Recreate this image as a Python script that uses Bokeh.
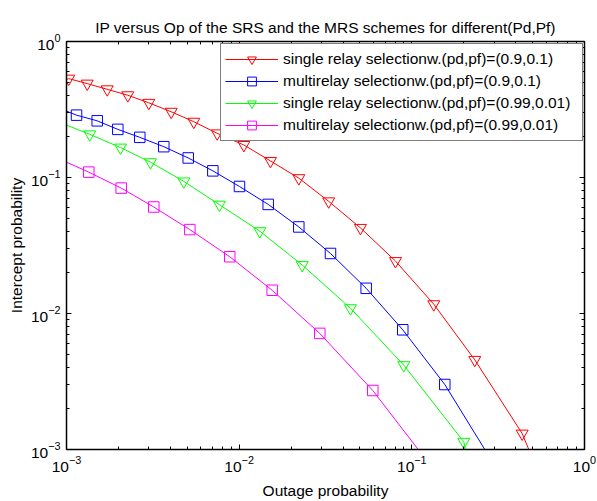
from bokeh.plotting import figure
from bokeh.models import LogAxis, LogTicker, CustomJSTickFormatter, Range1d
from bokeh.embed import file_html
from bokeh.resources import INLINE

# ---------------- data ----------------
x_limits = [1e-3, 1e0]
y_limits = [1e-3, 1e0]

labels = [
    "single relay selectionw.(pd,pf)=(0.9,0.1)",
    "multirelay selectionw.(pd,pf)=(0.9,0.1)",
    "single relay selectionw.(pd,pf)=(0.99,0.01)",
    "multirelay selectionw.(pd,pf)=(0.99,0.01)",
]

# SRS, (pd,pf)=(0.9,0.1)
srs1_x = [1.03e-3, 1.318e-3, 1.721e-3, 2.265e-3, 2.997e-3, 4.04e-3, 5.46e-3, 7.46e-3,
          1.064e-2, 1.518e-2, 2.215e-2, 3.30e-2, 5.04e-2, 8.04e-2, 0.134, 0.2316, 0.4356]
srs1_y = [0.5334, 0.4903, 0.4453, 0.4026, 0.3541, 0.3044, 0.2572, 0.2112,
          0.1734, 0.1324, 0.0989, 0.0668, 0.0426, 0.0243, 0.0117, 0.00456, 0.00131]
srs1_start_y = 0.5245   # curve value at x = 1e-3
srs1_end_x = 0.4757     # curve reaches y = 1e-3

# MRS, (pd,pf)=(0.9,0.1)
mrs1_x = [1.143e-3, 1.506e-3, 1.982e-3, 2.657e-3, 3.66e-3, 5.07e-3, 7.04e-3,
          1.004e-2, 1.473e-2, 2.215e-2, 3.38e-2, 5.44e-2, 8.86e-2, 0.1552]
mrs1_y = [0.2874, 0.2611, 0.2259, 0.1974, 0.1685, 0.1392, 0.1119,
          0.0859, 0.0634, 0.0433, 0.02763, 0.01532, 0.00759, 0.003005]
mrs1_start_y = 0.3075
mrs1_end_x = 0.2646

# SRS, (pd,pf)=(0.99,0.01)
srs2_x = [1.364e-3, 2.055e-3, 3.066e-3, 4.78e-3, 7.69e-3, 1.317e-2, 2.317e-2,
          4.41e-2, 8.98e-2, 0.200]
srs2_y = [0.2077, 0.1660, 0.1296, 0.0936, 0.0631, 0.0403, 0.02273,
          0.01094, 0.00417, 0.001139]
srs2_start_y = 0.2428
srs2_end_x = 0.2045

# MRS, (pd,pf)=(0.99,0.01)
mrs2_x = [1.346e-3, 2.074e-3, 3.202e-3, 5.18e-3, 8.82e-3, 1.553e-2, 2.93e-2, 5.94e-2]
mrs2_y = [0.1095, 0.0836, 0.0607, 0.0414, 0.02615, 0.01482, 0.00714, 0.002716]
mrs2_start_y = 0.1296
mrs2_end_x = 0.1089

colors = ["#FF0000", "#0000FF", "#00FF00", "#FF00FF"]
markers = ["inverted_triangle", "square", "inverted_triangle", "square"]

series = [
    (srs1_x, srs1_y, srs1_start_y, srs1_end_x),
    (mrs1_x, mrs1_y, mrs1_start_y, mrs1_end_x),
    (srs2_x, srs2_y, srs2_start_y, srs2_end_x),
    (mrs2_x, mrs2_y, mrs2_start_y, mrs2_end_x),
]

FONT = "Liberation Sans"
FS = "15.5px"

p = figure(
    width=597, height=501,
    x_axis_type="log", y_axis_type="log",
    x_range=Range1d(*x_limits), y_range=Range1d(*y_limits),
    output_backend="svg", toolbar_location=None,
    min_border_left=66, min_border_right=13, min_border_top=41, min_border_bottom=50,
    title="IP versus Op of the SRS and the MRS schemes for different(Pd,Pf)",
)
p.title.align = "center"
p.title.text_font = FONT
p.title.text_font_size = FS
p.title.text_font_style = "normal"
p.title.text_color = "#000000"
p.title.standoff = 11

p.xgrid.visible = False
p.ygrid.visible = False
p.outline_line_color = "#000000"
p.outline_line_width = 1
p.background_fill_color = "#FFFFFF"
p.border_fill_color = "#FFFFFF"

p.xaxis.axis_label = "Outage probability"
p.yaxis.axis_label = "Intercept probability"

for ax in (p.xaxis[0], p.yaxis[0]):
    ax.ticker = LogTicker(mantissas=[1], num_minor_ticks=10)
    ax.axis_label_text_font = FONT
    ax.axis_label_text_font_size = FS
    ax.axis_label_text_font_style = "normal"
    ax.axis_label_text_color = "#000000"
    ax.major_label_text_font = FONT
    ax.major_label_text_font_size = FS
    ax.major_label_text_color = "#000000"
    ax.major_tick_in = 5
    ax.major_tick_out = 0
    ax.minor_tick_in = 3
    ax.minor_tick_out = 0
    ax.axis_line_color = "#000000"
    ax.major_tick_line_color = "#000000"
    ax.minor_tick_line_color = "#000000"
    ax.axis_line_width = 1.5

p.xaxis.major_label_standoff = 6
p.xaxis.axis_label_standoff = 7
p.yaxis.major_label_standoff = 6
p.yaxis.axis_label_standoff = 3

for side in ("right", "above"):
    ax = LogAxis(ticker=LogTicker(mantissas=[1], num_minor_ticks=10),
                 formatter=CustomJSTickFormatter(code="return ''"),
                 major_tick_in=5, major_tick_out=0, minor_tick_in=3, minor_tick_out=0,
                 major_label_standoff=0, axis_line_color="#000000", axis_line_width=1.5,
                 major_label_text_font_size="1px")
    p.add_layout(ax, side)

for (xs, ys, y0, x1), col, mk, lab in zip(series, colors, markers, labels):
    lx = [x_limits[0]] + xs + [x1]
    ly = [y0] + ys + [y_limits[0]]
    p.line(lx, ly, line_color=col, line_width=1, legend_label=lab)
    p.scatter(xs, ys, marker=mk, size=12 if mk == "inverted_triangle" else 10.5,
              fill_color=None, line_color=col, line_width=1, legend_label=lab)

lg = p.legend[0]
lg.location = (154, 308)
lg.label_text_font = FONT
lg.label_text_font_size = FS
lg.label_text_color = "#000000"
lg.glyph_width = 53
lg.glyph_height = 22
lg.label_height = 20
lg.label_standoff = 5
lg.label_width = 295
lg.spacing = 0
lg.padding = 4
lg.margin = 0
lg.border_line_color = "#000000"
lg.border_line_width = 1
lg.background_fill_color = "#FFFFFF"
lg.background_fill_alpha = 1

open("out.html", "w").write(file_html(p, INLINE))
